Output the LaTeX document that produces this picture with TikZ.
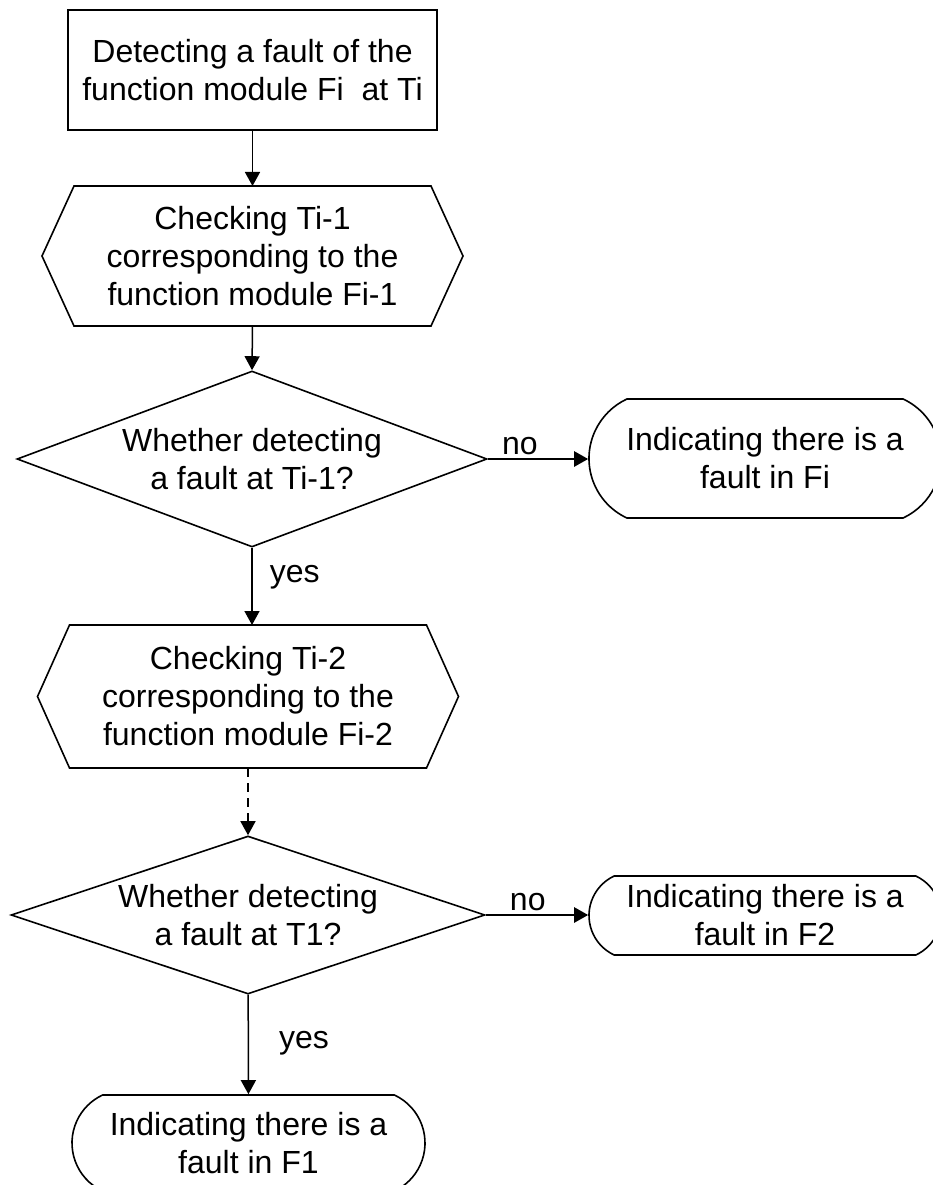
\documentclass[tikz,border=0pt]{standalone}
\usepackage{fontspec}
\setmainfont{Liberation Sans}
\usetikzlibrary{shapes.geometric,shapes.misc,arrows.meta}

\begin{document}
\begin{tikzpicture}[x=1pt,y=-1pt,
  every node/.style={font=\fontsize{32}{38}\selectfont, align=center},
  proc/.style={draw, line width=1.6pt, minimum width=369pt, minimum height=120pt, inner sep=0pt},
  hexa/.style={minimum width=421pt, minimum height=140pt, inner sep=0pt, outer sep=0pt},
  decide/.style={draw, diamond, aspect=3, inner sep=0pt, line width=1.6pt},
  term/.style={draw, rounded rectangle, rounded rectangle arc length=130, minimum width=352pt, inner sep=0pt, line width=1.6pt},
  lab/.style={inner sep=3pt},
  arr/.style={-{Triangle[length=14pt,width=15pt]}, line width=1.5pt}]

\useasboundingbox (0,0) rectangle (933,1185);

\node [proc] (det) at (252.5,70) {Detecting a fault of the\\function module Fi~ at Ti};
\node [hexa] (chk1) at (252.5,256) {Checking Ti-1\\corresponding to the\\function module Fi-1};
\node [decide, minimum width=470pt, minimum height=176pt] (q1) at (252,459) {Whether detecting\\a fault at Ti-1?};
\node [term, minimum height=119pt] (r1) at (765,458.5) {Indicating there is a\\fault in Fi};
\node [hexa, minimum height=143pt] (chk2) at (248,696.5) {Checking Ti-2\\corresponding to the\\function module Fi-2};
\node [decide, minimum width=474pt, minimum height=158pt] (q2) at (248,915) {Whether detecting\\a fault at T1?};
\node [term, minimum height=79pt] (r2) at (765,915.5) {Indicating there is a\\fault in F2};
\node [term, minimum height=96pt, minimum width=353pt] (r3) at (248.5,1143) {Indicating there is a\\fault in F1};

% hexagon outlines
\foreach \h in {chk1,chk2}
  \draw [line width=1.6pt] ([xshift=32pt]\h.north west) -- ([xshift=-32pt]\h.north east) -- (\h.east)
    -- ([xshift=-32pt]\h.south east) -- ([xshift=32pt]\h.south west) -- (\h.west) -- cycle;

\draw [arr] (det) -- (chk1);
\draw [arr] (chk1.south) -- (q1.north);
\draw [arr, line width=2.4pt] (q1.east) -- node[lab, pos=0.32, above] {no} (q1.east -| r1.west);
\draw [arr] (q1.south) -- node[lab, pos=0.38, right=14pt] {yes} (q1.south |- chk2.north);
\draw [arr, dash pattern=on 9pt off 6pt] (chk2) -- (q2);
\draw [arr, line width=2.4pt] (q2.east) -- node[lab, pos=0.41, above] {no} (q2.east -| r2.west);
\draw [arr] (q2) -- node[lab, pos=0.49, right=27pt] {yes} (r3);
\end{tikzpicture}
\end{document}
